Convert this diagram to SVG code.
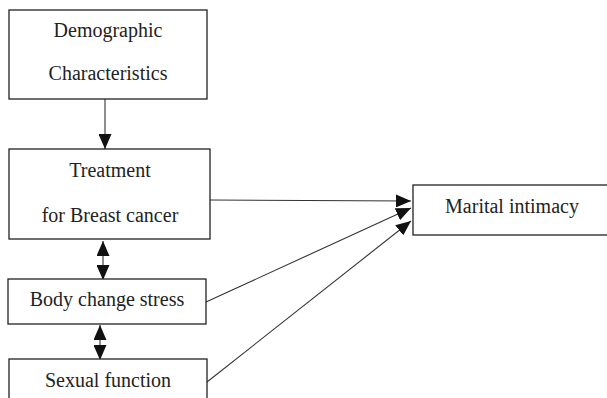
<svg xmlns="http://www.w3.org/2000/svg" width="607" height="398" viewBox="0 0 607 398">
<style>
.box{fill:#fff;stroke:#222;stroke-width:1.3}
.t{font-size:20px;fill:#222;text-anchor:middle}
.c{stroke:#333;stroke-width:1.1;fill:none}
</style>
<defs>
<marker id="ah" markerWidth="15" markerHeight="13" refX="15" refY="6.5" orient="auto-start-reverse" markerUnits="userSpaceOnUse">
<path d="M0,0 L15,6.5 L0,13 Z" fill="#111"/>
</marker>
</defs>
<rect width="607" height="398" fill="#fff"/>
<g id="connectors">
<line class="c" x1="105" y1="99" x2="105" y2="149" marker-end="url(#ah)"/>
<line class="c" x1="103" y1="241" x2="103" y2="280" marker-start="url(#ah)" marker-end="url(#ah)"/>
<line class="c" x1="100" y1="325" x2="100" y2="360" marker-start="url(#ah)" marker-end="url(#ah)"/>
<line class="c" x1="210" y1="200" x2="411" y2="201" marker-end="url(#ah)"/>
<line class="c" x1="206" y1="302" x2="411" y2="208" marker-end="url(#ah)"/>
<line class="c" x1="207" y1="382" x2="411" y2="221" marker-end="url(#ah)"/>
</g>
<g font-family="'Liberation Serif', 'Times New Roman', serif">
<g id="demographic">
<rect class="box" x="9" y="10" width="198" height="89"/>
<text class="t" x="108" y="37">Demographic</text>
<text class="t" x="108" y="80">Characteristics</text>
</g>
<g id="treatment">
<rect class="box" x="9" y="149" width="201" height="90"/>
<text class="t" x="110" y="177">Treatment</text>
<text class="t" x="110" y="222">for Breast cancer</text>
</g>
<g id="body">
<rect class="box" x="8" y="279" width="198" height="45"/>
<text class="t" x="107" y="306">Body change stress</text>
</g>
<g id="sexual">
<rect class="box" x="9" y="359" width="198" height="50"/>
<text class="t" x="108" y="387">Sexual function</text>
</g>
<g id="marital">
<rect class="box" x="413" y="185" width="200" height="50"/>
<text class="t" x="512" y="213">Marital intimacy</text>
</g>
</g>
</svg>
